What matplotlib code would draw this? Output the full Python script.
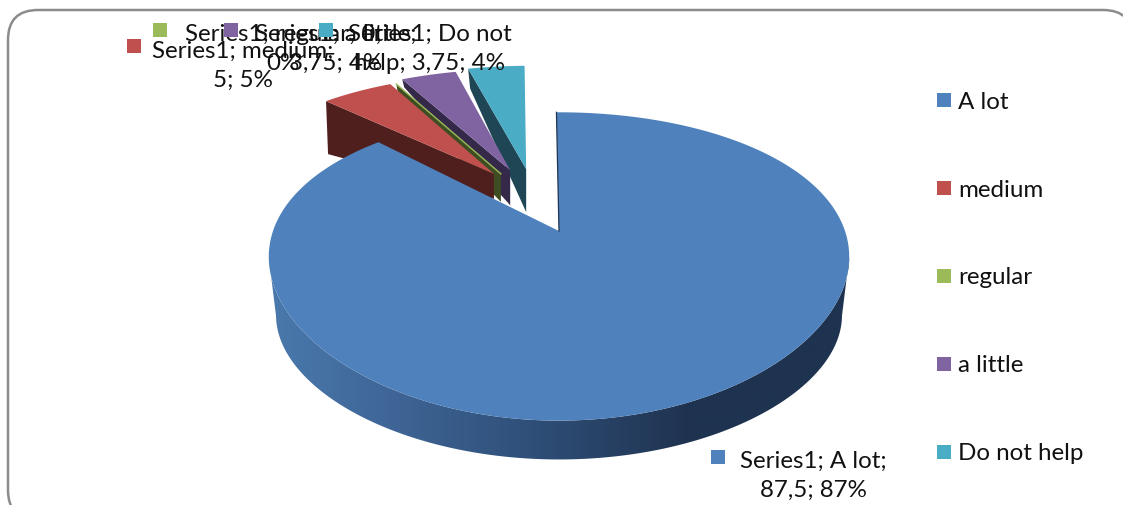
import numpy as np
import matplotlib
matplotlib.use('Agg')
import matplotlib.pyplot as plt
from matplotlib.patches import Polygon, FancyBboxPatch, Rectangle

plt.rcParams['font.family'] = ['Lato', 'DejaVu Sans']

categories = ['A lot', 'medium', 'regular', 'a little', 'Do not help']
values = [87.5, 5, 0, 3.75, 3.75]
value_labels = ['87,5', '5', '0', '3,75', '3,75']
pct_labels = ['87%', '5%', '0%', '4%', '4%']

colors = ['#4f81bd', '#c0504d', '#9bbb59', '#8064a2', '#4bacc6']
wall_colors = ['#1f3450', '#4f1f1e', '#3f4d22', '#35294a', '#1e4654']

# how far each slice is pulled out, in disc units (u, v)
explode = [(0, 0), (-0.244, 0.43), (-0.218, 0.43), (-0.184, 0.46), (-0.124, 0.47)]
# wall height at the centre and at the rim of each pulled out slice
wall_depth = [(40, 40), (25, 53), (28, 12), (35, 8), (43, 20)]
slice_r = [1.0, 1.0, 1.0, 1.03, 1.06]

CX, CY = 559, 232
BX, BY = 286, 146
KX, KY = 0.17, 0.23
FS = 17.4
TILT = -1.5  # small slices sit a bit rotated
BIG_TILT = -0.6


def project(u, v):
    u = np.asarray(u, dtype=float)
    v = np.asarray(v, dtype=float)
    return CX + BX * u / (1 + KX * v), CY - BY * v / (1 + KY * v)


def slice_outline(a0, a1, off, r=1.0):
    t = np.radians(np.linspace(a0, a1, max(2, int(abs(a1 - a0)) + 2)))
    u = np.concatenate([[0], r * np.sin(t)]) + off[0]
    v = np.concatenate([[0], r * np.cos(t)]) + off[1]
    x, y = project(u, v)
    return np.column_stack([x, y])


fig = plt.figure(figsize=(11.23, 5.06), dpi=100)
ax = fig.add_axes([0, 0, 1, 1])
ax.set_xlim(0, 1123)
ax.set_ylim(506, 0)
ax.axis('off')

box = FancyBboxPatch((8, 11), 1125, 510, boxstyle='round,pad=0,rounding_size=30',
                     fc='white', ec='#8c8c8c', lw=1.8, zorder=1)
ax.add_patch(box)

# slice angles, clockwise from 12 o'clock
total = sum(values)
start = 0
angles = []
for val in values:
    angles.append((start, start + val / total * 360))
    start += val / total * 360

# small pulled out slices, the far ones first
for i in [4, 3, 2, 1]:
    a0, a1 = angles[i]
    pts = slice_outline(a0 + TILT, a1 + TILT, explode[i], slice_r[i])
    near, far = wall_depth[i]
    apex = pts[0]
    rim = pts[1]
    wall = [apex, rim, rim + [2, far], apex + [0, near]]
    ax.add_patch(Polygon(wall, fc=wall_colors[i], ec='none', zorder=3 + (4 - i)))
    if values[i] > 0:
        ax.add_patch(Polygon(pts, fc=colors[i], ec='none', zorder=3 + (4 - i)))
    else:
        ax.plot([apex[0], rim[0]], [apex[1], rim[1]], color=colors[i], lw=1, zorder=3 + (4 - i))

# big slice: rim with a left to right shade, then the top
a0, a1 = angles[0]
t = np.radians(np.linspace(100, 260, 200))
top_x, top_y = project(np.sin(t), np.cos(t))
bot_x = CX + (top_x - CX) * 0.975
bot_y = 320 + (top_y - 262) * 0.88
rim_poly = Polygon(np.column_stack([np.r_[top_x, bot_x[::-1]], np.r_[top_y, bot_y[::-1]]]),
                   fc='none', ec='none', zorder=8)
ax.add_patch(rim_poly)
shade = matplotlib.colors.LinearSegmentedColormap.from_list(
    'rim', [(0, '#4a79ac'), (0.2, '#3f6697'), (0.45, '#2f4f78'), (0.72, '#1f3350'), (1, '#1e3350')])
im = ax.imshow(np.linspace(0, 1, 256)[None, :], cmap=shade, aspect='auto',
               extent=(271, 851, 506, 100), zorder=8)
im.set_clip_path(rim_poly)
ax.set_xlim(0, 1123)
ax.set_ylim(506, 0)

ax.add_patch(Polygon(slice_outline(a0 + BIG_TILT, a1, explode[0]), fc=colors[0], ec='none', zorder=9))
sx, sy = project([0, np.sin(np.radians(BIG_TILT))], [0, np.cos(np.radians(BIG_TILT))])
ax.plot(sx, sy, color=wall_colors[0], lw=0.9, zorder=10)

# legend
legend_y = [101, 189, 277, 365, 453]
for cat, col, y in zip(categories, colors, legend_y):
    ax.add_patch(Rectangle((937, y - 7), 14, 14, fc=col, ec='none', zorder=11))
    ax.text(958, y + 1, cat, fontsize=FS, va='center', ha='left', color='#111111', zorder=11)

# data labels, overlapping like in the original
label_text = [
    'Series1; %s;\n%s; %s' % (categories[0], value_labels[0], pct_labels[0]),
    'Series1; %s;\n%s; %s' % (categories[1], value_labels[1], pct_labels[1]),
    'Series1; %s; %s;\n%s' % (categories[2], value_labels[2], pct_labels[2]),
    'Series1; %s;\n%s; %s' % (categories[3], value_labels[3], pct_labels[3]),
    'Series1; Do not\nhelp; %s; %s' % (value_labels[4], pct_labels[4]),
]
label_center = [(813, 476), (243, 66), (283, 49), (336, 49), (430, 49)]
swatch_pos = [(711, 451), (127, 40), (153, 24), (224, 24), (319, 24)]
for i in [1, 2, 3, 4, 0]:
    ax.add_patch(Rectangle(swatch_pos[i], 14, 14, fc=colors[i], ec='none', zorder=12))
    ax.text(label_center[i][0], label_center[i][1], label_text[i], fontsize=FS,
            ha='center', va='center', linespacing=1.5, color='#111111', zorder=12)

fig.savefig('out.png', dpi=100)
